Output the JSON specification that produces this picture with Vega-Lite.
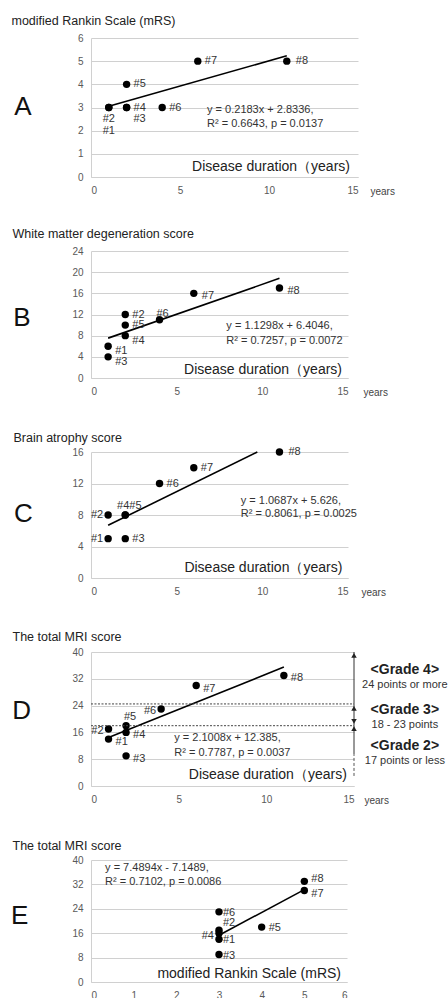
{
  "$schema": "https://vega.github.io/schema/vega-lite/v6.json",
  "padding": {"left": 11, "top": 14, "right": 0, "bottom": 0},
  "spacing": 74,
  "bounds": "flush",
  "config": {
    "font": "Liberation Sans",
    "view": {"stroke": null},
    "axis": {"labelFontSize": 10, "labelColor": "#595959", "ticks": false, "domainColor": "#d0d0d0", "labelPadding": 8, "labelOverlap": false, "titleFontWeight": "normal", "zindex": 0},
    "axisY": {"titleAngle": 0, "titleAlign": "left", "titleBaseline": "middle", "titleFontSize": 12.5, "titleColor": "#222", "grid": true, "gridColor": "#d0d0d0"},
    "axisX": {"titleAngle": 0, "titleAlign": "left", "titleBaseline": "middle", "titleFontSize": 10, "titleColor": "#444", "grid": false}
  },
  "datasets": {
    "pts": [
      {"p": "A", "x": 1, "y": 3, "label": "#1"}, {"p": "A", "x": 1, "y": 3, "label": "#2"}, {"p": "A", "x": 2, "y": 3, "label": "#3"}, {"p": "A", "x": 2, "y": 3, "label": "#4"},
      {"p": "A", "x": 2, "y": 4, "label": "#5"}, {"p": "A", "x": 4, "y": 3, "label": "#6"}, {"p": "A", "x": 6, "y": 5, "label": "#7"}, {"p": "A", "x": 11, "y": 5, "label": "#8"},
      {"p": "B", "x": 1, "y": 6, "label": "#1"}, {"p": "B", "x": 2, "y": 12, "label": "#2"}, {"p": "B", "x": 1, "y": 4, "label": "#3"}, {"p": "B", "x": 2, "y": 8, "label": "#4"},
      {"p": "B", "x": 2, "y": 10, "label": "#5"}, {"p": "B", "x": 4, "y": 11, "label": "#6"}, {"p": "B", "x": 6, "y": 16, "label": "#7"}, {"p": "B", "x": 11, "y": 17, "label": "#8"},
      {"p": "C", "x": 1, "y": 5, "label": "#1"}, {"p": "C", "x": 1, "y": 8, "label": "#2"}, {"p": "C", "x": 2, "y": 5, "label": "#3"}, {"p": "C", "x": 2, "y": 8, "label": "#4"},
      {"p": "C", "x": 2, "y": 8, "label": "#5"}, {"p": "C", "x": 4, "y": 12, "label": "#6"}, {"p": "C", "x": 6, "y": 14, "label": "#7"}, {"p": "C", "x": 11, "y": 16, "label": "#8"},
      {"p": "D", "x": 1, "y": 14, "label": "#1"}, {"p": "D", "x": 1, "y": 17, "label": "#2"}, {"p": "D", "x": 2, "y": 9, "label": "#3"}, {"p": "D", "x": 2, "y": 16, "label": "#4"},
      {"p": "D", "x": 2, "y": 18, "label": "#5"}, {"p": "D", "x": 4, "y": 23, "label": "#6"}, {"p": "D", "x": 6, "y": 30, "label": "#7"}, {"p": "D", "x": 11, "y": 33, "label": "#8"},
      {"p": "E", "x": 3, "y": 14, "label": "#1"}, {"p": "E", "x": 3, "y": 17, "label": "#2"}, {"p": "E", "x": 3, "y": 9, "label": "#3"}, {"p": "E", "x": 3, "y": 16, "label": "#4"},
      {"p": "E", "x": 4, "y": 18, "label": "#5"}, {"p": "E", "x": 3, "y": 23, "label": "#6"}, {"p": "E", "x": 5, "y": 30, "label": "#7"}, {"p": "E", "x": 5, "y": 33, "label": "#8"}
    ],
    "fit": [
      {"p": "A", "x": 1, "y": 3.0519}, {"p": "A", "x": 11, "y": 5.2349},
      {"p": "B", "x": 1, "y": 7.5344}, {"p": "B", "x": 11, "y": 18.8324},
      {"p": "C", "x": 1, "y": 6.6947}, {"p": "C", "x": 9.707, "y": 16},
      {"p": "D", "x": 1, "y": 14.4858}, {"p": "D", "x": 11, "y": 35.4938},
      {"p": "E", "x": 3, "y": 15.3193}, {"p": "E", "x": 5, "y": 30.2981}
    ],
    "ann": [
      {"p": "A", "kind": "eq", "x": 6.52, "y": 2.89, "text": "y = 0.2183x  + 2.8336,"},
      {"p": "A", "kind": "eq", "x": 6.52, "y": 2.29, "text": "R² = 0.6643,  p = 0.0137"},
      {"p": "A", "kind": "axis", "x": 14.55, "y": 0.44, "text": "Disease duration（years)"},
      {"p": "A", "kind": "letter", "x": -3.82, "y": 3.03, "text": "A"},
      {"p": "B", "kind": "eq", "x": 7.9, "y": 9.85, "text": "y = 1.1298x + 6.4046,"},
      {"p": "B", "kind": "eq", "x": 7.9, "y": 6.99, "text": "R² = 0.7257,  p = 0.0072"},
      {"p": "B", "kind": "axis", "x": 14.65, "y": 1.47, "text": "Disease duration（years)"},
      {"p": "B", "kind": "letter", "x": -4.03, "y": 11.43, "text": "B"},
      {"p": "C", "kind": "eq", "x": 8.74, "y": 9.84, "text": "y = 1.0687x  + 5.626,"},
      {"p": "C", "kind": "eq", "x": 8.74, "y": 8.15, "text": "R² = 0.8061,  p = 0.0025"},
      {"p": "C", "kind": "axis", "x": 14.67, "y": 1.27, "text": "Disease duration（years)"},
      {"p": "C", "kind": "letter", "x": -3.95, "y": 8.14, "text": "C"},
      {"p": "D", "kind": "eq", "x": 4.75, "y": 14.22, "text": "y = 2.1008x  + 12.385,"},
      {"p": "D", "kind": "eq", "x": 4.75, "y": 10.0, "text": "R² = 0.7787,  p = 0.0037"},
      {"p": "D", "kind": "axis", "x": 14.59, "y": 3.3, "text": "Disease duration（years)"},
      {"p": "D", "kind": "letter", "x": -3.95, "y": 22.5, "text": "D"},
      {"p": "D", "kind": "grade", "x": 17.9, "y": 34.5, "text": "<Grade 4>"},
      {"p": "D", "kind": "gradesub", "x": 17.9, "y": 30.2, "text": "24 points or more"},
      {"p": "D", "kind": "grade", "x": 17.9, "y": 22.8, "text": "<Grade 3>"},
      {"p": "D", "kind": "gradesub", "x": 17.9, "y": 18.2, "text": "18 - 23 points"},
      {"p": "D", "kind": "grade", "x": 17.9, "y": 11.8, "text": "<Grade 2>"},
      {"p": "D", "kind": "gradesub", "x": 17.9, "y": 7.5, "text": "17 points or less"},
      {"p": "E", "kind": "eq", "x": 0.33, "y": 37.26, "text": "y = 7.4894x  - 7.1489,"},
      {"p": "E", "kind": "eq", "x": 0.33, "y": 32.87, "text": "R² = 0.7102,  p = 0.0086"},
      {"p": "E", "kind": "axis", "x": 5.86, "y": 2.77, "text": "modified Rankin Scale (mRS)"},
      {"p": "E", "kind": "letter", "x": -1.67, "y": 21.66, "text": "E"}
    ],
    "cut": [{"x": 0, "x2": 15, "y": 24.5}, {"x": 0, "x2": 15, "y": 18}],
    "arr": [{"x": 15, "y": 24.5, "y2": 40}, {"x": 15, "y": 18, "y2": 24.5}, {"x": 15, "y": 9.5, "y2": 18}, {"x": 15, "y": 3, "y2": 9.5}],
    "heads": [{"x": 15, "y": 39, "dir": "up"}, {"x": 15, "y": 23.2, "dir": "up"}, {"x": 15, "y": 19.3, "dir": "down"}, {"x": 15, "y": 17.1, "dir": "up"}]
  },
  "vconcat": [
    {
      "width": 267, "height": 139,
      "resolve": {"axis": {"y": "independent"}},
      "layer": [
        {"data": {"name": "pts"}, "transform": [{"filter": "datum.p === 'A'"}],
         "mark": {"type": "circle", "size": 55, "color": "#000", "opacity": 1},
         "encoding": {
           "x": {"field": "x", "type": "quantitative", "scale": {"domain": [0, 15], "nice": false},
                 "axis": {"values": [0, 5, 10, 15], "title": "years", "titleX": 279, "titleY": 14, "labelOverlap": false}},
           "y": {"field": "y", "type": "quantitative", "scale": {"domain": [0, 6], "nice": false},
                 "axis": {"orient": "left", "values": [0, 1, 2, 3, 4, 5, 6], "labelOverlap": false, "zindex": 0,
                          "title": "modified Rankin Scale (mRS)", "titleX": -80, "titleY": -18}}}},
        {"data": {"name": "fit"}, "transform": [{"filter": "datum.p === 'A'"}],
         "mark": {"type": "line", "color": "#000", "strokeWidth": 1.6},
         "encoding": {"x": {"field": "x", "type": "quantitative"},
                      "y": {"field": "y", "type": "quantitative",
                            "axis": {"orient": "left", "values": [0.2,0.4,0.6,0.8,1.2,1.4,1.6,1.8,2.2,2.4,2.6,2.8,3.2,3.4,3.6,3.8,4.2,4.4,4.6,4.8,5.2,5.4,5.6,5.8],
                                     "labels": false, "domain": false, "title": null, "gridColor": "#ececec", "zindex": 0}}}},
        {"data": {"name": "pts"}, "transform": [{"filter": "datum.p === 'A' && indexof(['#4','#5','#6','#7'], datum.label) >= 0"}],
         "mark": {"type": "text", "align": "left", "baseline": "middle", "dx": 7, "fontSize": 11, "color": "#333"},
         "encoding": {"x": {"field": "x", "type": "quantitative"}, "y": {"field": "y", "type": "quantitative", "axis": null}, "text": {"field": "label"}}},
        {"data": {"name": "pts"}, "transform": [{"filter": "datum.p === 'A' && datum.label === '#8'"}],
         "mark": {"type": "text", "align": "left", "baseline": "middle", "dx": 9, "fontSize": 11, "color": "#333"},
         "encoding": {"x": {"field": "x", "type": "quantitative"}, "y": {"field": "y", "type": "quantitative", "axis": null}, "text": {"field": "label"}}},
        {"data": {"name": "pts"}, "transform": [{"filter": "datum.p === 'A' && datum.label === '#2'"}],
         "mark": {"type": "text", "align": "center", "baseline": "middle", "dy": 11, "fontSize": 11, "color": "#333"},
         "encoding": {"x": {"field": "x", "type": "quantitative"}, "y": {"field": "y", "type": "quantitative", "axis": null}, "text": {"field": "label"}}},
        {"data": {"name": "pts"}, "transform": [{"filter": "datum.p === 'A' && datum.label === '#1'"}],
         "mark": {"type": "text", "align": "center", "baseline": "middle", "dy": 23, "fontSize": 11, "color": "#333"},
         "encoding": {"x": {"field": "x", "type": "quantitative"}, "y": {"field": "y", "type": "quantitative", "axis": null}, "text": {"field": "label"}}},
        {"data": {"name": "pts"}, "transform": [{"filter": "datum.p === 'A' && datum.label === '#3'"}],
         "mark": {"type": "text", "align": "center", "baseline": "middle", "dx": 13, "dy": 11, "fontSize": 11, "color": "#333"},
         "encoding": {"x": {"field": "x", "type": "quantitative"}, "y": {"field": "y", "type": "quantitative", "axis": null}, "text": {"field": "label"}}},
        {"data": {"name": "ann"}, "transform": [{"filter": "datum.p === 'A' && datum.kind === 'eq'"}],
         "mark": {"type": "text", "align": "left", "baseline": "middle", "fontSize": 11, "color": "#333"},
         "encoding": {"x": {"field": "x", "type": "quantitative"}, "y": {"field": "y", "type": "quantitative", "axis": null}, "text": {"field": "text"}}},
        {"data": {"name": "ann"}, "transform": [{"filter": "datum.p === 'A' && datum.kind === 'axis'"}],
         "mark": {"type": "text", "align": "right", "baseline": "middle", "fontSize": 14, "color": "#222"},
         "encoding": {"x": {"field": "x", "type": "quantitative"}, "y": {"field": "y", "type": "quantitative", "axis": null}, "text": {"field": "text"}}},
        {"data": {"name": "ann"}, "transform": [{"filter": "datum.p === 'A' && datum.kind === 'letter'"}],
         "mark": {"type": "text", "align": "center", "baseline": "middle", "fontSize": 26, "color": "#111"},
         "encoding": {"x": {"field": "x", "type": "quantitative"}, "y": {"field": "y", "type": "quantitative", "axis": null}, "text": {"field": "text"}}}
      ]
    },
    {
      "width": 257, "height": 127,
      "resolve": {"axis": {"y": "independent"}},
      "layer": [
        {"data": {"name": "pts"}, "transform": [{"filter": "datum.p === 'B'"}],
         "mark": {"type": "circle", "size": 55, "color": "#000", "opacity": 1},
         "encoding": {
           "x": {"field": "x", "type": "quantitative", "scale": {"domain": [0, 15], "nice": false},
                 "axis": {"values": [0, 5, 10, 15], "title": "years", "titleX": 272, "titleY": 14, "labelOverlap": false}},
           "y": {"field": "y", "type": "quantitative", "scale": {"domain": [0, 24], "nice": false},
                 "axis": {"orient": "left", "values": [0, 4, 8, 12, 16, 20, 24], "labelOverlap": false, "zindex": 0,
                          "title": "White matter degeneration score", "titleX": -79, "titleY": -18}}}},
        {"data": {"name": "fit"}, "transform": [{"filter": "datum.p === 'B'"}],
         "mark": {"type": "line", "color": "#000", "strokeWidth": 1.6},
         "encoding": {"x": {"field": "x", "type": "quantitative"},
                      "y": {"field": "y", "type": "quantitative",
                            "axis": {"orient": "left", "values": [0.8,1.6,2.4,3.2,4.8,5.6,6.4,7.2,8.8,9.6,10.4,11.2,12.8,13.6,14.4,15.2,16.8,17.6,18.4,19.2,20.8,21.6,22.4,23.2],
                                     "labels": false, "domain": false, "title": null, "gridColor": "#ececec", "zindex": 0}}}},
        {"data": {"name": "pts"}, "transform": [{"filter": "datum.p === 'B' && indexof(['#2','#5'], datum.label) >= 0"}],
         "mark": {"type": "text", "align": "left", "baseline": "middle", "dx": 7, "fontSize": 11, "color": "#333"},
         "encoding": {"x": {"field": "x", "type": "quantitative"}, "y": {"field": "y", "type": "quantitative", "axis": null}, "text": {"field": "label"}}},
        {"data": {"name": "pts"}, "transform": [{"filter": "datum.p === 'B' && indexof(['#1','#3','#4'], datum.label) >= 0"}],
         "mark": {"type": "text", "align": "left", "baseline": "middle", "dx": 7, "dy": 5, "fontSize": 11, "color": "#333"},
         "encoding": {"x": {"field": "x", "type": "quantitative"}, "y": {"field": "y", "type": "quantitative", "axis": null}, "text": {"field": "label"}}},
        {"data": {"name": "pts"}, "transform": [{"filter": "datum.p === 'B' && indexof(['#7','#8'], datum.label) >= 0"}],
         "mark": {"type": "text", "align": "left", "baseline": "middle", "dx": 8, "dy": 3, "fontSize": 11, "color": "#333"},
         "encoding": {"x": {"field": "x", "type": "quantitative"}, "y": {"field": "y", "type": "quantitative", "axis": null}, "text": {"field": "label"}}},
        {"data": {"name": "pts"}, "transform": [{"filter": "datum.p === 'B' && datum.label === '#6'"}],
         "mark": {"type": "text", "align": "center", "baseline": "middle", "dx": 3, "dy": -6, "fontSize": 11, "color": "#333"},
         "encoding": {"x": {"field": "x", "type": "quantitative"}, "y": {"field": "y", "type": "quantitative", "axis": null}, "text": {"field": "label"}}},
        {"data": {"name": "ann"}, "transform": [{"filter": "datum.p === 'B' && datum.kind === 'eq'"}],
         "mark": {"type": "text", "align": "left", "baseline": "middle", "fontSize": 11, "color": "#333"},
         "encoding": {"x": {"field": "x", "type": "quantitative"}, "y": {"field": "y", "type": "quantitative", "axis": null}, "text": {"field": "text"}}},
        {"data": {"name": "ann"}, "transform": [{"filter": "datum.p === 'B' && datum.kind === 'axis'"}],
         "mark": {"type": "text", "align": "right", "baseline": "middle", "fontSize": 14, "color": "#222"},
         "encoding": {"x": {"field": "x", "type": "quantitative"}, "y": {"field": "y", "type": "quantitative", "axis": null}, "text": {"field": "text"}}},
        {"data": {"name": "ann"}, "transform": [{"filter": "datum.p === 'B' && datum.kind === 'letter'"}],
         "mark": {"type": "text", "align": "center", "baseline": "middle", "fontSize": 26, "color": "#111"},
         "encoding": {"x": {"field": "x", "type": "quantitative"}, "y": {"field": "y", "type": "quantitative", "axis": null}, "text": {"field": "text"}}}
      ]
    },
    {
      "width": 257, "height": 126,
      "resolve": {"axis": {"y": "independent"}},
      "layer": [
        {"data": {"name": "pts"}, "transform": [{"filter": "datum.p === 'C'"}],
         "mark": {"type": "circle", "size": 55, "color": "#000", "opacity": 1},
         "encoding": {
           "x": {"field": "x", "type": "quantitative", "scale": {"domain": [0, 15], "nice": false},
                 "axis": {"values": [0, 5, 10, 15], "title": "years", "titleX": 270, "titleY": 14, "labelOverlap": false}},
           "y": {"field": "y", "type": "quantitative", "scale": {"domain": [0, 16], "nice": false},
                 "axis": {"orient": "left", "values": [0, 4, 8, 12, 16], "labelOverlap": false, "zindex": 0,
                          "title": "Brain atrophy score", "titleX": -78, "titleY": -15}}}},
        {"data": {"name": "fit"}, "transform": [{"filter": "datum.p === 'C'"}],
         "mark": {"type": "line", "color": "#000", "strokeWidth": 1.6},
         "encoding": {"x": {"field": "x", "type": "quantitative"},
                      "y": {"field": "y", "type": "quantitative",
                            "axis": {"orient": "left", "values": [0.8,1.6,2.4,3.2,4.8,5.6,6.4,7.2,8.8,9.6,10.4,11.2,12.8,13.6,14.4,15.2],
                                     "labels": false, "domain": false, "title": null, "gridColor": "#ececec", "zindex": 0}}}},
        {"data": {"name": "pts"}, "transform": [{"filter": "datum.p === 'C' && indexof(['#3','#6','#7'], datum.label) >= 0"}],
         "mark": {"type": "text", "align": "left", "baseline": "middle", "dx": 7, "fontSize": 11, "color": "#333"},
         "encoding": {"x": {"field": "x", "type": "quantitative"}, "y": {"field": "y", "type": "quantitative", "axis": null}, "text": {"field": "label"}}},
        {"data": {"name": "pts"}, "transform": [{"filter": "datum.p === 'C' && datum.label === '#8'"}],
         "mark": {"type": "text", "align": "left", "baseline": "middle", "dx": 9, "fontSize": 11, "color": "#333"},
         "encoding": {"x": {"field": "x", "type": "quantitative"}, "y": {"field": "y", "type": "quantitative", "axis": null}, "text": {"field": "label"}}},
        {"data": {"name": "pts"}, "transform": [{"filter": "datum.p === 'C' && indexof(['#1','#2'], datum.label) >= 0"}],
         "mark": {"type": "text", "align": "right", "baseline": "middle", "dx": -5, "fontSize": 11, "color": "#333"},
         "encoding": {"x": {"field": "x", "type": "quantitative"}, "y": {"field": "y", "type": "quantitative", "axis": null}, "text": {"field": "label"}}},
        {"data": {"name": "pts"}, "transform": [{"filter": "datum.p === 'C' && datum.label === '#4'"}],
         "mark": {"type": "text", "align": "right", "baseline": "middle", "dx": 4, "dy": -9, "fontSize": 11, "color": "#333"},
         "encoding": {"x": {"field": "x", "type": "quantitative"}, "y": {"field": "y", "type": "quantitative", "axis": null}, "text": {"field": "label"}}},
        {"data": {"name": "pts"}, "transform": [{"filter": "datum.p === 'C' && datum.label === '#5'"}],
         "mark": {"type": "text", "align": "left", "baseline": "middle", "dx": 4, "dy": -9, "fontSize": 11, "color": "#333"},
         "encoding": {"x": {"field": "x", "type": "quantitative"}, "y": {"field": "y", "type": "quantitative", "axis": null}, "text": {"field": "label"}}},
        {"data": {"name": "ann"}, "transform": [{"filter": "datum.p === 'C' && datum.kind === 'eq'"}],
         "mark": {"type": "text", "align": "left", "baseline": "middle", "fontSize": 11, "color": "#333"},
         "encoding": {"x": {"field": "x", "type": "quantitative"}, "y": {"field": "y", "type": "quantitative", "axis": null}, "text": {"field": "text"}}},
        {"data": {"name": "ann"}, "transform": [{"filter": "datum.p === 'C' && datum.kind === 'axis'"}],
         "mark": {"type": "text", "align": "right", "baseline": "middle", "fontSize": 14, "color": "#222"},
         "encoding": {"x": {"field": "x", "type": "quantitative"}, "y": {"field": "y", "type": "quantitative", "axis": null}, "text": {"field": "text"}}},
        {"data": {"name": "ann"}, "transform": [{"filter": "datum.p === 'C' && datum.kind === 'letter'"}],
         "mark": {"type": "text", "align": "center", "baseline": "middle", "fontSize": 26, "color": "#111"},
         "encoding": {"x": {"field": "x", "type": "quantitative"}, "y": {"field": "y", "type": "quantitative", "axis": null}, "text": {"field": "text"}}}
      ]
    },
    {
      "width": 263, "height": 134,
      "resolve": {"axis": {"y": "independent"}},
      "layer": [
        {"data": {"name": "pts"}, "transform": [{"filter": "datum.p === 'D'"}],
         "mark": {"type": "circle", "size": 55, "color": "#000", "opacity": 1},
         "encoding": {
           "x": {"field": "x", "type": "quantitative", "scale": {"domain": [0, 15], "nice": false},
                 "axis": {"values": [0, 5, 10, 15], "title": "years", "titleX": 273, "titleY": 14, "labelOverlap": false}},
           "y": {"field": "y", "type": "quantitative", "scale": {"domain": [0, 40], "nice": false},
                 "axis": {"orient": "left", "values": [0, 8, 16, 24, 32, 40], "labelOverlap": false, "zindex": 0,
                          "title": "The total MRI score", "titleX": -79, "titleY": -16}}}},
        {"data": {"name": "fit"}, "transform": [{"filter": "datum.p === 'D'"}],
         "mark": {"type": "line", "color": "#000", "strokeWidth": 1.6},
         "encoding": {"x": {"field": "x", "type": "quantitative"},
                      "y": {"field": "y", "type": "quantitative",
                            "axis": {"orient": "left", "values": [1.6,3.2,4.8,6.4,9.6,11.2,12.8,14.4,17.6,19.2,20.8,22.4,25.6,27.2,28.8,30.4,33.6,35.2,36.8,38.4],
                                     "labels": false, "domain": false, "title": null, "gridColor": "#ececec", "zindex": 0}}}},
        {"data": {"name": "cut"},
         "mark": {"type": "rule", "color": "#444", "strokeWidth": 1, "strokeDash": [2, 1.5]},
         "encoding": {"x": {"field": "x", "type": "quantitative"}, "x2": {"field": "x2"}, "y": {"field": "y", "type": "quantitative", "axis": null}}},
        {"data": {"name": "arr"}, "transform": [{"filter": "datum.y >= 9"}],
         "mark": {"type": "rule", "color": "#333", "strokeWidth": 1},
         "encoding": {"x": {"field": "x", "type": "quantitative"}, "y": {"field": "y", "type": "quantitative", "axis": null}, "y2": {"field": "y2"}}},
        {"data": {"name": "arr"}, "transform": [{"filter": "datum.y < 9"}],
         "mark": {"type": "rule", "color": "#555", "strokeWidth": 1, "strokeDash": [3, 2]},
         "encoding": {"x": {"field": "x", "type": "quantitative"}, "y": {"field": "y", "type": "quantitative", "axis": null}, "y2": {"field": "y2"}}},
        {"data": {"name": "heads"},
         "mark": {"type": "point", "filled": true, "size": 30, "color": "#222", "opacity": 1},
         "encoding": {"x": {"field": "x", "type": "quantitative"}, "y": {"field": "y", "type": "quantitative", "axis": null},
                      "shape": {"field": "dir", "type": "nominal", "scale": {"domain": ["up", "down"], "range": ["triangle-up", "triangle-down"]}, "legend": null}}},
        {"data": {"name": "pts"}, "transform": [{"filter": "datum.p === 'D' && indexof(['#1','#3','#4','#7','#8'], datum.label) >= 0"}],
         "mark": {"type": "text", "align": "left", "baseline": "middle", "dx": 7, "dy": 3, "fontSize": 11, "color": "#333"},
         "encoding": {"x": {"field": "x", "type": "quantitative"}, "y": {"field": "y", "type": "quantitative", "axis": null}, "text": {"field": "label"}}},
        {"data": {"name": "pts"}, "transform": [{"filter": "datum.p === 'D' && indexof(['#2','#6'], datum.label) >= 0"}],
         "mark": {"type": "text", "align": "right", "baseline": "middle", "dx": -5, "dy": 2, "fontSize": 11, "color": "#333"},
         "encoding": {"x": {"field": "x", "type": "quantitative"}, "y": {"field": "y", "type": "quantitative", "axis": null}, "text": {"field": "label"}}},
        {"data": {"name": "pts"}, "transform": [{"filter": "datum.p === 'D' && datum.label === '#5'"}],
         "mark": {"type": "text", "align": "center", "baseline": "middle", "dx": 4, "dy": -9, "fontSize": 11, "color": "#333"},
         "encoding": {"x": {"field": "x", "type": "quantitative"}, "y": {"field": "y", "type": "quantitative", "axis": null}, "text": {"field": "label"}}},
        {"data": {"name": "ann"}, "transform": [{"filter": "datum.p === 'D' && datum.kind === 'eq'"}],
         "mark": {"type": "text", "align": "left", "baseline": "middle", "fontSize": 11, "color": "#333"},
         "encoding": {"x": {"field": "x", "type": "quantitative"}, "y": {"field": "y", "type": "quantitative", "axis": null}, "text": {"field": "text"}}},
        {"data": {"name": "ann"}, "transform": [{"filter": "datum.p === 'D' && datum.kind === 'axis'"}],
         "mark": {"type": "text", "align": "right", "baseline": "middle", "fontSize": 14, "color": "#222"},
         "encoding": {"x": {"field": "x", "type": "quantitative"}, "y": {"field": "y", "type": "quantitative", "axis": null}, "text": {"field": "text"}}},
        {"data": {"name": "ann"}, "transform": [{"filter": "datum.p === 'D' && datum.kind === 'letter'"}],
         "mark": {"type": "text", "align": "center", "baseline": "middle", "fontSize": 26, "color": "#111"},
         "encoding": {"x": {"field": "x", "type": "quantitative"}, "y": {"field": "y", "type": "quantitative", "axis": null}, "text": {"field": "text"}}},
        {"data": {"name": "ann"}, "transform": [{"filter": "datum.p === 'D' && datum.kind === 'grade'"}],
         "mark": {"type": "text", "align": "center", "baseline": "middle", "fontSize": 14, "fontWeight": "bold", "color": "#222"},
         "encoding": {"x": {"field": "x", "type": "quantitative"}, "y": {"field": "y", "type": "quantitative", "axis": null}, "text": {"field": "text"}}},
        {"data": {"name": "ann"}, "transform": [{"filter": "datum.p === 'D' && datum.kind === 'gradesub'"}],
         "mark": {"type": "text", "align": "center", "baseline": "middle", "fontSize": 11, "color": "#333"},
         "encoding": {"x": {"field": "x", "type": "quantitative"}, "y": {"field": "y", "type": "quantitative", "axis": null}, "text": {"field": "text"}}}
      ]
    },
    {
      "width": 256, "height": 122,
      "resolve": {"axis": {"y": "independent"}},
      "layer": [
        {"data": {"name": "pts"}, "transform": [{"filter": "datum.p === 'E'"}],
         "mark": {"type": "circle", "size": 55, "color": "#000", "opacity": 1},
         "encoding": {
           "x": {"field": "x", "type": "quantitative", "scale": {"domain": [0, 6], "nice": false},
                 "axis": {"values": [0, 1, 2, 3, 4, 5, 6], "title": null, "labelOverlap": false}},
           "y": {"field": "y", "type": "quantitative", "scale": {"domain": [0, 40], "nice": false},
                 "axis": {"orient": "left", "values": [0, 8, 16, 24, 32, 40], "labelOverlap": false, "zindex": 0,
                          "title": "The total MRI score", "titleX": -79, "titleY": -15}}}},
        {"data": {"name": "fit"}, "transform": [{"filter": "datum.p === 'E'"}],
         "mark": {"type": "line", "color": "#000", "strokeWidth": 1.6},
         "encoding": {"x": {"field": "x", "type": "quantitative"},
                      "y": {"field": "y", "type": "quantitative",
                            "axis": {"orient": "left", "values": [1.6,3.2,4.8,6.4,9.6,11.2,12.8,14.4,17.6,19.2,20.8,22.4,25.6,27.2,28.8,30.4,33.6,35.2,36.8,38.4],
                                     "labels": false, "domain": false, "title": null, "gridColor": "#ececec", "zindex": 0}}}},
        {"data": {"name": "pts"}, "transform": [{"filter": "datum.p === 'E' && indexof(['#1','#3','#6'], datum.label) >= 0"}],
         "mark": {"type": "text", "align": "left", "baseline": "middle", "dx": 4, "dy": 1, "fontSize": 11, "color": "#333"},
         "encoding": {"x": {"field": "x", "type": "quantitative"}, "y": {"field": "y", "type": "quantitative", "axis": null}, "text": {"field": "label"}}},
        {"data": {"name": "pts"}, "transform": [{"filter": "datum.p === 'E' && datum.label === '#5'"}],
         "mark": {"type": "text", "align": "left", "baseline": "middle", "dx": 7, "dy": 1, "fontSize": 11, "color": "#333"},
         "encoding": {"x": {"field": "x", "type": "quantitative"}, "y": {"field": "y", "type": "quantitative", "axis": null}, "text": {"field": "label"}}},
        {"data": {"name": "pts"}, "transform": [{"filter": "datum.p === 'E' && datum.label === '#7'"}],
         "mark": {"type": "text", "align": "left", "baseline": "middle", "dx": 7, "dy": 3, "fontSize": 11, "color": "#333"},
         "encoding": {"x": {"field": "x", "type": "quantitative"}, "y": {"field": "y", "type": "quantitative", "axis": null}, "text": {"field": "label"}}},
        {"data": {"name": "pts"}, "transform": [{"filter": "datum.p === 'E' && datum.label === '#8'"}],
         "mark": {"type": "text", "align": "left", "baseline": "middle", "dx": 7, "dy": -2, "fontSize": 11, "color": "#333"},
         "encoding": {"x": {"field": "x", "type": "quantitative"}, "y": {"field": "y", "type": "quantitative", "axis": null}, "text": {"field": "label"}}},
        {"data": {"name": "pts"}, "transform": [{"filter": "datum.p === 'E' && datum.label === '#4'"}],
         "mark": {"type": "text", "align": "right", "baseline": "middle", "dx": -5, "dy": 3, "fontSize": 11, "color": "#333"},
         "encoding": {"x": {"field": "x", "type": "quantitative"}, "y": {"field": "y", "type": "quantitative", "axis": null}, "text": {"field": "label"}}},
        {"data": {"name": "pts"}, "transform": [{"filter": "datum.p === 'E' && datum.label === '#2'"}],
         "mark": {"type": "text", "align": "center", "baseline": "middle", "dx": 10, "dy": -7, "fontSize": 11, "color": "#333"},
         "encoding": {"x": {"field": "x", "type": "quantitative"}, "y": {"field": "y", "type": "quantitative", "axis": null}, "text": {"field": "label"}}},
        {"data": {"name": "ann"}, "transform": [{"filter": "datum.p === 'E' && datum.kind === 'eq'"}],
         "mark": {"type": "text", "align": "left", "baseline": "middle", "fontSize": 11, "color": "#333"},
         "encoding": {"x": {"field": "x", "type": "quantitative"}, "y": {"field": "y", "type": "quantitative", "axis": null}, "text": {"field": "text"}}},
        {"data": {"name": "ann"}, "transform": [{"filter": "datum.p === 'E' && datum.kind === 'axis'"}],
         "mark": {"type": "text", "align": "right", "baseline": "middle", "fontSize": 14, "color": "#222"},
         "encoding": {"x": {"field": "x", "type": "quantitative"}, "y": {"field": "y", "type": "quantitative", "axis": null}, "text": {"field": "text"}}},
        {"data": {"name": "ann"}, "transform": [{"filter": "datum.p === 'E' && datum.kind === 'letter'"}],
         "mark": {"type": "text", "align": "center", "baseline": "middle", "fontSize": 26, "color": "#111"},
         "encoding": {"x": {"field": "x", "type": "quantitative"}, "y": {"field": "y", "type": "quantitative", "axis": null}, "text": {"field": "text"}}}
      ]
    }
  ]
}
